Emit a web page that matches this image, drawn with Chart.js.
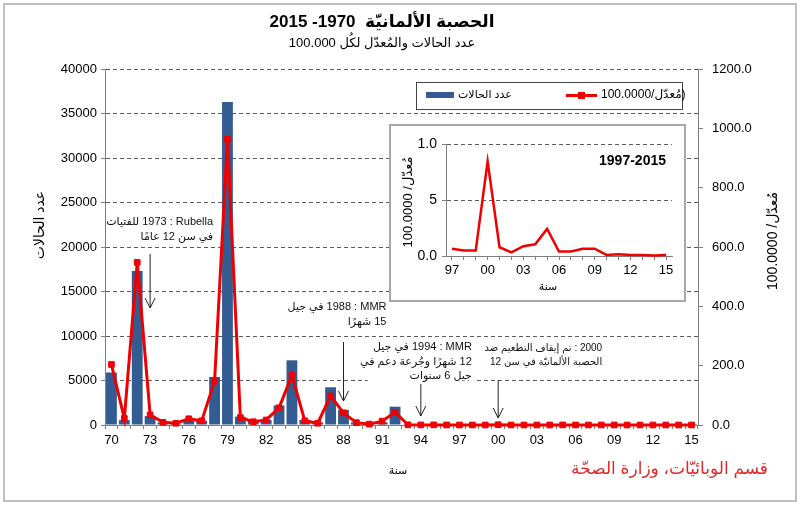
<!DOCTYPE html>
<html lang="ar">
<head>
<meta charset="utf-8">
<title>الحصبة الألمانيّة 1970-2015</title>
<script src="https://cdn.jsdelivr.net/npm/chart.js@4.4.1/dist/chart.umd.min.js"></script>
<style>
  html, body { margin: 0; padding: 0; background: #fff; }
  #wrap { position: relative; width: 800px; height: 507px; }
  #inset {
    position: absolute; left: 389px; top: 124px; width: 297px; height: 178px;
    box-sizing: border-box; border: 2px solid #a8a8a8; background: #fff;
  }
  canvas { display: block; }
</style>
</head>
<body>
<div id="wrap">
  <canvas id="mainChart" width="800" height="507"></canvas>
  <div id="inset"><canvas id="insetChart" width="293" height="174"></canvas></div>
</div>
<script>
// years 1970 - 2015 (two digit labels)
const years = ['70','71','72','73','74','75','76','77','78','79',
               '80','81','82','83','84','85','86','87','88','89',
               '90','91','92','93','94','95','96','97','98','99',
               '00','01','02','03','04','05','06','07','08','09',
               '10','11','12','13','14','15'];

// number of cases per year
const cases = [5900, 550, 17300, 1000, 300, 150, 480, 480, 5400, 36300,
               930, 480, 560, 2200, 7270, 560, 300, 4240, 1700, 300,
               50, 300, 2060, 30, 15, 20, 10, 4, 3, 3,
               52, 5, 2, 6, 7, 16, 3, 3, 5, 5,
               1, 1, 1, 1, 0, 1];

// rate per 100,000
const rates = [204, 22, 548, 34, 9, 6, 21, 14, 148, 963,
               25, 11, 17, 58, 168, 14, 6, 98, 41, 8,
               3, 13, 43, 0.6, 0.3, 0.4, 0.2, 0.065, 0.05, 0.05,
               0.845, 0.078, 0.033, 0.087, 0.105, 0.242, 0.04, 0.04, 0.065, 0.065,
               0.01, 0.015, 0.01, 0.01, 0.005, 0.01];

// inset: 1997-2015
const insetStart = years.indexOf('97');
const insetYears = years.slice(insetStart);
const insetRates = rates.slice(insetStart);
const insetTickText = ['0.0', '5', '1.0'];

// annotation texts, with the year each arrow points at
const notes = [
  { year: '73', lines: ['Rubella :\u200F 1973 للفتيات', 'في سن 12 عامًا'] },
  { year: '88', lines: ['MMR :\u200F 1988 في جيل', '15 شهرًا'] },
  { year: '94', lines: ['MMR :\u200F 1994 في جيل', '12 شهرًا وجُرعة دعم في', 'جيل 6 سنوات'] },
  { year: '00', lines: ['2000 : تم إيقاف التطعيم ضد', 'الحصبة الألمانيّة في سن 12'] }
];

const FONT = '"Liberation Sans", Arial, "DejaVu Sans", sans-serif';
const barColor = '#335d92';
const lineColor = '#f00000';

function txt(ctx, s, x, y, font, color, align, dir) {
  ctx.save();
  ctx.font = font;
  ctx.fillStyle = color || '#000';
  ctx.textAlign = align || 'center';
  ctx.textBaseline = 'middle';
  ctx.direction = dir || 'rtl';
  ctx.fillText(s, x, y);
  ctx.restore();
}

function vtxt(ctx, s, x, y, font, color) {
  ctx.save();
  ctx.translate(x, y);
  ctx.rotate(-Math.PI / 2);
  txt(ctx, s, 0, 0, font, color, 'center', 'rtl');
  ctx.restore();
}

function arrow(ctx, x, y1, y2) {
  ctx.save();
  ctx.strokeStyle = '#222';
  ctx.lineWidth = 1;
  ctx.beginPath();
  ctx.moveTo(x, y1);
  ctx.lineTo(x, y2);
  ctx.moveTo(x - 5, y2 - 10);
  ctx.lineTo(x, y2);
  ctx.lineTo(x + 5, y2 - 10);
  ctx.stroke();
  ctx.restore();
}

const mainDecor = {
  id: 'mainDecor',
  beforeDraw(chart) {
    const ctx = chart.ctx;
    ctx.save();
    ctx.fillStyle = '#fff';
    ctx.fillRect(0, 0, chart.width, chart.height);
    ctx.strokeStyle = '#ababab';
    ctx.lineWidth = 1.5;
    ctx.strokeRect(4, 4, 792, 497);
    ctx.restore();
  },
  afterDraw(chart) {
    const ctx = chart.ctx;
    const x = chart.scales.x;

    // titles
    txt(ctx, 'الحصبة الألمانيّة  1970- 2015', 382, 22, 'bold 17px ' + FONT);
    txt(ctx, 'عدد الحالات والمُعدّل لكُل 100.000', 382, 43, '13px ' + FONT);

    // axis titles
    vtxt(ctx, 'عدد الحالات', 40, 225, '14px ' + FONT);
    vtxt(ctx, 'مُعدّل/ 100.0000', 773, 241, '14px ' + FONT);
    txt(ctx, 'سنة', 398, 471, '11px ' + FONT);
    txt(ctx, 'قسم الوبائيّات، وزارة الصحّة', 768, 469, '17px ' + FONT, '#e02828', 'right');

    // legend box
    const bars = chart.data.datasets[1];
    const line = chart.data.datasets[0];
    ctx.save();
    ctx.fillStyle = '#fff';
    ctx.fillRect(416, 82, 266, 27);
    ctx.strokeStyle = '#444';
    ctx.lineWidth = 1;
    ctx.strokeRect(416.5, 82.5, 266, 27);
    ctx.fillStyle = bars.backgroundColor;
    ctx.fillRect(426, 92, 28, 6);
    ctx.strokeStyle = line.borderColor;
    ctx.lineWidth = 3;
    ctx.beginPath();
    ctx.moveTo(566, 95.5);
    ctx.lineTo(597, 95.5);
    ctx.stroke();
    ctx.fillStyle = line.borderColor;
    ctx.fillRect(578, 92, 7, 7);
    ctx.restore();
    txt(ctx, bars.label, 458, 95, '11px ' + FONT, '#000', 'left');
    txt(ctx, line.label, 601, 95, '12px ' + FONT, '#000', 'left');

    // annotations
    const textRight = [63, 43, 51, 104];
    const firstLine = [222, 307, 347, 348];
    const noteSize = [11, 11, 11, 10];
    const arrowY = [[254, 308], [342, 401], [384, 416], [380, 418]];
    notes.forEach((n, i) => {
      const ax = x.getPixelForValue(years.indexOf(n.year));
      const rx = ax + textRight[i];
      if (i === 2) {
        ctx.save();
        ctx.fillStyle = '#fff';
        ctx.fillRect(rx - 104, firstLine[i] - 8, 107, 45);
        ctx.restore();
      }
      n.lines.forEach((s, k) => {
        txt(ctx, s, rx, firstLine[i] + k * 14.5, noteSize[i] + 'px ' + FONT, '#111', 'right');
      });
      arrow(ctx, ax, arrowY[i][0], arrowY[i][1]);
    });
  }
};

const tickFont = { family: FONT, size: 13 };

new Chart(document.getElementById('mainChart'), {
  data: {
    labels: years,
    datasets: [
      {
        type: 'line',
        label: '(مُعدّل/100.0000',
        data: rates,
        yAxisID: 'y1',
        borderColor: lineColor,
        backgroundColor: lineColor,
        borderWidth: 3,
        pointStyle: 'rect',
        pointRadius: 4,
        pointBorderWidth: 1,
        tension: 0,
        clip: false,
        order: 0
      },
      {
        type: 'bar',
        label: 'عدد الحالات',
        data: cases,
        yAxisID: 'y',
        backgroundColor: barColor,
        categoryPercentage: 0.84,
        barPercentage: 1,
        order: 1
      }
    ]
  },
  options: {
    responsive: false,
    animation: false,
    devicePixelRatio: 1,
    layout: { padding: { top: 69, left: 0, right: 0, bottom: 0 } },
    plugins: { legend: { display: false }, tooltip: { enabled: false } },
    scales: {
      x: {
        type: 'category',
        offset: true,
        grid: { drawOnChartArea: false, drawTicks: true, tickLength: 4, color: '#808080' },
        border: { color: '#808080', width: 1 },
        ticks: {
          autoSkip: false, maxRotation: 0, minRotation: 0, padding: 4,
          color: '#000', font: tickFont,
          callback: (v, i) => (i % 3 === 0 ? years[i] : '')
        },
        afterFit: s => { s.height = 82; }
      },
      y: {
        position: 'left',
        min: 0, max: 40000,
        ticks: { stepSize: 5000, padding: 4, color: '#000', font: tickFont, callback: v => String(v) },
        grid: {
          color: c => (c.tick && c.tick.value === 0 ? 'rgba(0,0,0,0)' : '#5a5a5a'),
          tickColor: '#808080', tickLength: 4, lineWidth: 1
        },
        border: { color: '#808080', width: 1, dash: [4, 3] },
        afterFit: s => { s.width = 105; }
      },
      y1: {
        position: 'right',
        min: 0, max: 1200,
        ticks: { stepSize: 200, padding: 9, color: '#000', font: tickFont, callback: v => v.toFixed(1) },
        grid: { drawOnChartArea: false, tickLength: 5, color: '#808080' },
        border: { color: '#808080', width: 1 },
        afterFit: s => { s.width = 102; }
      }
    }
  },
  plugins: [mainDecor]
});

const insetDecor = {
  id: 'insetDecor',
  afterDraw(chart) {
    const ctx = chart.ctx;
    txt(ctx, '1997-2015', 275, 35, 'bold 14px ' + FONT, '#000', 'right', 'ltr');
    vtxt(ctx, 'مُعدّل/ 100.0000', 17, 76, '13px ' + FONT);
    txt(ctx, 'سنة', 157, 161, '11px ' + FONT);
  }
};

new Chart(document.getElementById('insetChart'), {
  type: 'line',
  data: {
    labels: insetYears,
    datasets: [{
      data: insetRates,
      borderColor: lineColor,
      borderWidth: 2.5,
      pointRadius: 0,
      tension: 0,
      clip: false
    }]
  },
  options: {
    responsive: false,
    animation: false,
    devicePixelRatio: 1,
    layout: { padding: { top: 18, right: 12, left: 0, bottom: 0 } },
    plugins: { legend: { display: false }, tooltip: { enabled: false } },
    scales: {
      x: {
        offset: true,
        grid: { drawOnChartArea: false, tickLength: 4, color: '#808080' },
        border: { color: '#808080', width: 1 },
        ticks: {
          autoSkip: false, maxRotation: 0, minRotation: 0, padding: 3,
          color: '#000', font: tickFont,
          callback: (v, i) => (i % 3 === 0 ? insetYears[i] : '')
        },
        afterFit: s => { s.height = 44; }
      },
      y: {
        min: 0, max: 1,
        ticks: {
          stepSize: 0.5, padding: 5, color: '#000', font: { family: FONT, size: 14 },
          callback: (v, i) => insetTickText[i]
        },
        grid: {
          color: c => (c.tick && c.tick.value === 0 ? 'rgba(0,0,0,0)' : '#5a5a5a'),
          tickColor: '#808080', tickLength: 4
        },
        border: { color: '#808080', width: 1, dash: [4, 3] },
        afterFit: s => { s.width = 55; }
      }
    }
  },
  plugins: [insetDecor]
});
</script>
</body>
</html>
